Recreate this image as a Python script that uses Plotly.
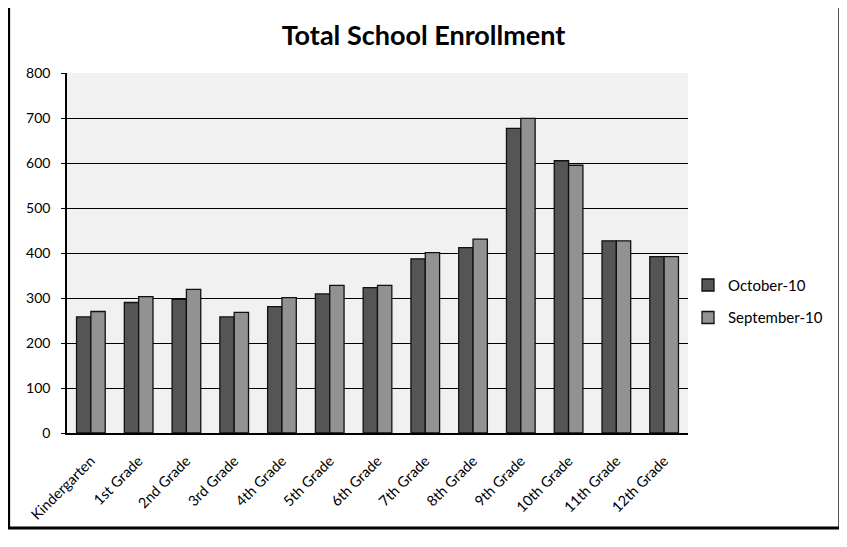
import plotly.graph_objects as go

grades = ["Kindergarten", "1st Grade", "2nd Grade", "3rd Grade", "4th Grade", "5th Grade",
          "6th Grade", "7th Grade", "8th Grade", "9th Grade", "10th Grade", "11th Grade", "12th Grade"]
october_10 = [258, 290, 297, 258, 281, 309, 323, 387, 412, 677, 605, 427, 392]
september_10 = [270, 303, 319, 268, 301, 328, 328, 401, 431, 699, 595, 427, 392]
y_ticks = [0, 100, 200, 300, 400, 500, 600, 700, 800]

FONT = "Lato"

fig = go.Figure()
fig.add_trace(go.Bar(name="October-10", x=grades, y=october_10, legendgroup="a",
                     marker=dict(color="#555555", line=dict(color="#111111", width=1.3))))
fig.add_trace(go.Bar(name="September-10", x=grades, y=september_10, legendgroup="b",
                     marker=dict(color="#929292", line=dict(color="#111111", width=1.3))))

fig.update_layout(
    width=847, height=547,
    margin=dict(l=59, r=167, t=65, b=122),
    paper_bgcolor="white",
    plot_bgcolor="#f1f1f1",
    barmode="group", bargap=0.4, bargroupgap=0,
    title=dict(text="<b>Total School Enrollment</b>", x=0.4906, xanchor="center",
               y=0.949, yanchor="middle", font=dict(family=FONT, size=27, color="black")),
    font=dict(family=FONT, size=14, color="black"),
    legend=dict(x=1.0, y=0.366, xanchor="left", yanchor="middle",
                font=dict(family=FONT, size=15, color="black"),
                tracegroupgap=10, itemwidth=30, bgcolor="rgba(0,0,0,0)"),
    showlegend=True,
)
fig.update_xaxes(tickangle=-45, showline=True, linecolor="black", linewidth=1.5,
                 showgrid=False, ticks="", ticklabelstandoff=12,
                 tickfont=dict(family=FONT, size=14.5))
fig.update_yaxes(range=[0, 800], tickvals=y_ticks, showgrid=True, gridcolor="black",
                 gridwidth=1.3, showline=True, linecolor="black", linewidth=1.5,
                 zeroline=False, ticks="outside", ticklen=4, tickcolor="black",
                 ticklabelstandoff=8, tickfont=dict(family=FONT, size=14))

# outer chart border
fig.add_shape(type="rect", xref="paper", yref="paper",
              x0=-0.094, x1=1.2445, y0=-0.2639, y1=1.1917,
              line=dict(color="black", width=3), fillcolor="rgba(0,0,0,0)", layer="below")

fig.write_html("out.html")
